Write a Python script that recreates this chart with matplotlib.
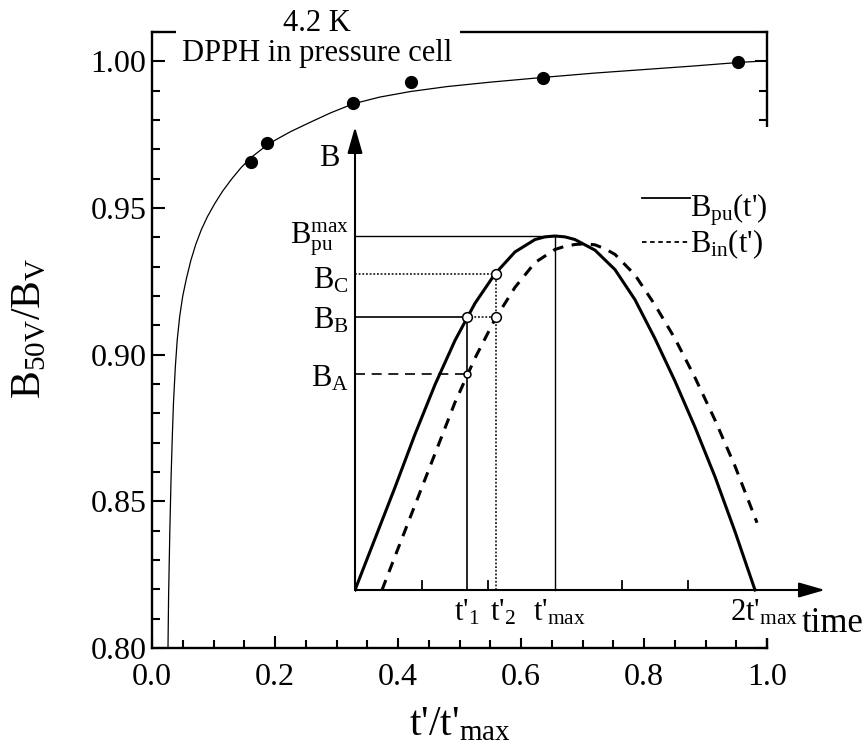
import matplotlib
matplotlib.use('Agg')
import matplotlib.pyplot as plt
from matplotlib.ticker import MultipleLocator, FormatStrFormatter
from matplotlib.patches import Rectangle

plt.rcParams['font.family'] = ['Liberation Serif', 'DejaVu Serif']
plt.rcParams['mathtext.fontset'] = 'custom'
plt.rcParams['mathtext.rm'] = 'Liberation Serif'
plt.rcParams['mathtext.it'] = 'Liberation Serif:italic'
plt.rcParams['mathtext.bf'] = 'Liberation Serif:bold'

# ---------------- main data ----------------
pts_x = [0.161, 0.187, 0.327, 0.421, 0.635, 0.953]
pts_y = [0.9657, 0.9722, 0.9858, 0.9930, 0.9943, 0.9998]

fit_x = [0.026, 0.027, 0.029, 0.031, 0.033, 0.035, 0.038, 0.041, 0.045, 0.050,
         0.056, 0.063, 0.071, 0.080, 0.090, 0.102, 0.115, 0.130, 0.145, 0.161,
         0.180, 0.200, 0.225, 0.255, 0.290, 0.327, 0.370, 0.420, 0.480, 0.550,
         0.635, 0.720, 0.800, 0.880, 0.953, 0.985]
fit_y = [0.800, 0.818, 0.840, 0.858, 0.872, 0.884, 0.896, 0.905, 0.913, 0.920,
         0.926, 0.932, 0.9375, 0.9425, 0.947, 0.9515, 0.9558, 0.960, 0.9638, 0.9672,
         0.9703, 0.9731, 0.9760, 0.9790, 0.9824, 0.9855, 0.9878, 0.9897, 0.9914, 0.9929,
         0.9945, 0.9960, 0.9972, 0.9984, 0.9996, 1.0000]

# ---------------- inset (schematic) data ----------------
pu_t = [0.0, 0.1, 0.2, 0.3, 0.4, 0.5, 0.6, 0.7, 0.8, 0.9, 0.95, 1.0,
        1.05, 1.1, 1.2, 1.3, 1.4, 1.5, 1.6, 1.7, 1.8, 1.9, 2.0]
pu_B = [0.0, 0.145, 0.29, 0.44, 0.58, 0.705, 0.81, 0.893, 0.955, 0.99, 0.9975, 1.0,
        0.9975, 0.99, 0.96, 0.905, 0.82, 0.71, 0.59, 0.46, 0.32, 0.165, 0.0]

in_t = [0.135, 0.2, 0.3, 0.4, 0.5, 0.6, 0.7, 0.8, 0.9, 1.0, 1.05,
        1.1, 1.15, 1.2, 1.25, 1.3, 1.4, 1.5, 1.6, 1.7, 1.8, 1.9, 2.01]
in_B = [0.0, 0.095, 0.24, 0.385, 0.53, 0.655, 0.765, 0.855, 0.925, 0.962, 0.971,
        0.976, 0.978, 0.975, 0.964, 0.948, 0.89, 0.805, 0.71, 0.60, 0.48, 0.35, 0.19]

t1, t2, tmax = 0.56, 0.705, 1.0
B_A, B_B, B_C, B_max = 0.61, 0.771, 0.893, 1.0
inset_ticks = [1/3, 2/3, 4/3, 5/3]

W, H = 866, 746
fig = plt.figure(figsize=(W/100, H/100), dpi=100)

def box(l, b, r, t):
    return [l/W, 1 - b/H, (r - l)/W, (b - t)/H]

ax = fig.add_axes(box(152, 648, 767, 32))
ax.plot(fit_x, fit_y, color='k', lw=0.9)
ax.plot(pts_x, pts_y, 'o', color='k', ms=8.5)
ax.set_xlim(0, 1.0)
ax.set_ylim(0.80, 1.01)
ax.xaxis.set_major_locator(MultipleLocator(0.2))
ax.xaxis.set_minor_locator(MultipleLocator(0.05))
ax.yaxis.set_major_locator(MultipleLocator(0.05))
ax.yaxis.set_minor_locator(MultipleLocator(0.01))
ax.xaxis.set_major_formatter(FormatStrFormatter('%.1f'))
ax.yaxis.set_major_formatter(FormatStrFormatter('%.2f'))
ax.tick_params(which='both', direction='in', top=False, right=True, width=1.5,
               labelsize=23)
ax.tick_params(which='major', length=9)
ax.tick_params(which='minor', length=6)
ax.tick_params(axis='x', pad=11)
ax.tick_params(axis='y', pad=4)
for s in ax.spines.values():
    s.set_linewidth(1.7)

fig.text(30/W, 1 - 328/H, r'$\mathregular{B_{50V}/B_V}$', rotation=90,
         ha='center', va='center', fontsize=30)
fig.text(460/W, 1 - 735/H, r"$\mathregular{t\text{'}/t\text{'}{}_{max}}$", ha='center',
         va='baseline', fontsize=30)

# white block behind the title text (interrupts the top spine)
fig.patches.append(Rectangle((176/W, 1 - 68/H), (460 - 176)/W, 58/H,
                             transform=fig.transFigure, facecolor='white',
                             edgecolor='none', zorder=1))
fig.text(317/W, 1 - 31/H, '4.2 K', ha='center', va='baseline', fontsize=22, zorder=3)
fig.text(317/W, 1 - 61/H, 'DPPH in pressure cell', ha='center', va='baseline',
         fontsize=22, zorder=3)

# ---------------- inset ----------------
tl, tr = 355, 830
yb, yt = 638, 127
axi = fig.add_axes(box(tl, yb, tr, yt))
axi.set_xlim(0, (tr - tl)/200)
axi.set_ylim((590 - yb)/354, (590 - yt)/354)
axi.patch.set_facecolor('white')
for s in axi.spines.values():
    s.set_visible(False)
axi.set_xticks([])
axi.set_yticks([])

arrow = dict(arrowstyle='-|>,head_length=0.8,head_width=0.23', lw=1.5,
             color='k', mutation_scale=20, shrinkA=0, shrinkB=0)
axi.annotate('', xy=(2.35, 0), xytext=(0, 0), arrowprops=arrow,
             annotation_clip=False)
axi.annotate('', xy=(0, 1.308), xytext=(0, 0), arrowprops=arrow,
             annotation_clip=False)
for tt in inset_ticks:
    axi.plot([tt, tt], [0, 0.025], color='k', lw=1.3)

axi.plot(pu_t, pu_B, color='k', lw=2.2)
axi.plot(in_t, in_B, color='k', lw=2.2, ls=(0, (3.5, 2.8)))

thin = 1.0
axi.plot([0, tmax], [B_max, B_max], color='k', lw=thin)
axi.plot([tmax, tmax], [0, B_max], color='k', lw=thin)
axi.plot([0, t2], [B_C, B_C], color='k', lw=1.1, ls=(0, (1.2, 1.2)))
axi.plot([t2, t2], [0, B_C], color='k', lw=1.1, ls=(0, (1.2, 1.2)))
axi.plot([0, t1], [B_B, B_B], color='k', lw=1.2)
axi.plot([t1, t2], [B_B, B_B], color='k', lw=1.1, ls=(0, (1.2, 1.2)))
axi.plot([t1, t1], [0, B_B], color='k', lw=1.2)
axi.plot([0, t1], [B_A, B_A], color='k', lw=1.2, ls=(0, (6, 4)))
axi.plot([t1, t2, t2], [B_B, B_C, B_B], 'o', ms=7, mfc='white', mec='k', mew=1.1)
axi.plot([t1], [B_A], 'o', ms=5, mfc='white', mec='k', mew=1.1)

fs = 22
axi.text(-0.13, 1.22, 'B', ha='center', va='center', fontsize=fs)
lx = -0.03
axi.text(lx, 0.980, r'$\mathregular{B_{pu}^{max}}$', ha='right', va='baseline', fontsize=fs)
axi.text(lx, 0.853, r'$\mathregular{B_C}$', ha='right', va='baseline', fontsize=fs)
axi.text(lx, 0.740, r'$\mathregular{B_B}$', ha='right', va='baseline', fontsize=fs)
axi.text(lx, 0.576, r'$\mathregular{B_A}$', ha='right', va='baseline', fontsize=fs)

yl = -0.085
axi.text(t1, yl, r"$\mathregular{t\text{'}{}_1}$", ha='center', va='baseline', fontsize=fs)
axi.text((490-355)/200, yl, r"$\mathregular{t\text{'}{}_2}$", ha='left', va='baseline', fontsize=fs)
axi.text((533-355)/200, yl, r"$\mathregular{t\text{'}{}_{max}}$", ha='left', va='baseline', fontsize=fs)
axi.text((730-355)/200, yl, r"$\mathregular{2t\text{'}{}_{max}}$", ha='left', va='baseline', fontsize=fs)
axi.text((802-355)/200, -0.119, 'time', ha='left', va='baseline', fontsize=25)

# legend
axi.plot([1.435, 1.675], [1.107, 1.107], color='k', lw=1.3, clip_on=False)
axi.plot([1.435, 1.675], [0.983, 0.983], color='k', lw=1.3, ls=(0, (2.5, 2)), clip_on=False)
axi.text(1.675, 1.054, r"$\mathregular{B_{pu}(t\text{'})}$", ha='left', va='baseline', fontsize=fs)
axi.text(1.675, 0.955, r"$\mathregular{B_{in}(t\text{'})}$", ha='left', va='baseline', fontsize=fs)

fig.savefig('out.png', dpi=100)
